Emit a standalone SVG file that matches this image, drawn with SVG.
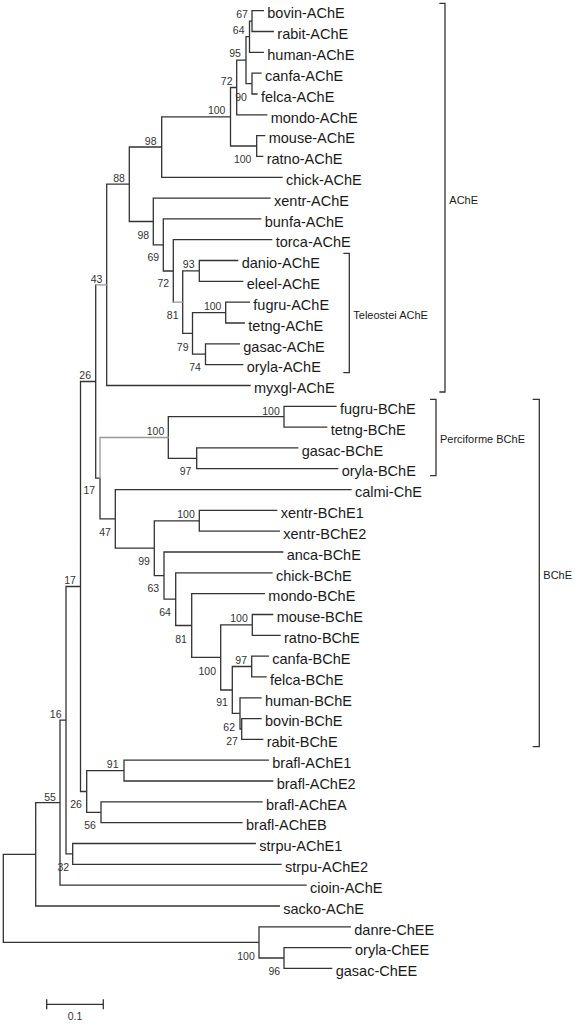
<svg xmlns="http://www.w3.org/2000/svg" width="575" height="1024" viewBox="0 0 575 1024">
<style>
.br{fill:none;stroke:#333;stroke-width:1.3;stroke-linecap:square}
.gr{fill:none;stroke:#999;stroke-width:1.3;stroke-linecap:square}
.lf{font-family:"Liberation Sans",Arial,sans-serif;font-size:14.5px;fill:#1a1a1a}
.bs{font-family:"Liberation Sans",Arial,sans-serif;font-size:10.5px;fill:#333;text-anchor:middle}
.bk{font-family:"Liberation Sans",Arial,sans-serif;font-size:11px;fill:#1a1a1a}
</style>
<rect width="575" height="1024" fill="#fff"/>
<g id="connectors">
<path class="br" d="
M252,10.7V31.5 M252,10.7H263.3 M252,31.5H273.3
M249.5,21.1V52.3 M249.5,21.1H252 M249.5,52.3H263.3
M252,73.2V94 M252,73.2H261 M252,94H257
M246,36.7V83.6 M246,36.7H249.5 M246,83.6H252
M236.7,60.2V114.8 M236.7,60.2H246 M236.7,114.8H266.7
M256.7,135.6V156.4 M256.7,135.6H264.7 M256.7,156.4H262.7
M230.5,87.5V146 M230.5,87.5H236.7 M230.5,146H256.7
M161.7,116.8V177.3 M161.7,116.8H230.5 M161.7,177.3H282
M199.3,260.5V281.4 M199.3,260.5H237.7 M199.3,281.4H242.7
M225.7,302.2V323 M225.7,302.2H249.3 M225.7,323H244.3
M205.5,343.8V364.6 M205.5,343.8H239.3 M205.5,364.6H242.7
M192.5,312.6V354.2 M192.5,312.6H225.7 M192.5,354.2H205.5
M182.7,270.9V333.4 M182.7,270.9H199.3 M182.7,333.4H192.5
M173.3,239.7V302.2 M173.3,239.7H271.7
M163.3,218.9V271 M163.3,218.9H260.7 M163.3,271H173.3
M153.3,198.1V244.9 M153.3,198.1H270 M153.3,244.9H163.3
M129.3,147V221.5 M129.3,147H161.7 M129.3,221.5H153.3
M106.7,184.2V385.5 M106.7,184.2H129.3 M106.7,385.5H250
M284,406.3V427.1 M284,406.3H336 M284,427.1H326.7
M196.7,447.9V468.7 M196.7,447.9H297.7 M196.7,468.7H337.7
M168.3,416.7V458.3 M168.3,416.7H284 M168.3,458.3H196.7
M199.3,510.4V531.2 M199.3,510.4H276.7 M199.3,531.2H279.3
M252.3,614.5V635.3 M252.3,614.5H272.7 M252.3,635.3H280
M251.7,656.1V676.9 M251.7,656.1H268.3 M251.7,676.9H266
M241.7,718.6V739.4 M241.7,718.6H261 M241.7,739.4H262.7
M240,697.8V729 M240,697.8H261 M240,729H241.7
M232.3,666.5V713.4 M232.3,666.5H251.7 M232.3,713.4H240
M220.7,624.9V690 M220.7,624.9H252.3 M220.7,690H232.3
M191.7,593.7V657.4 M191.7,593.7H264.3 M191.7,657.4H220.7
M175.7,572.8V625.5 M175.7,572.8H272 M175.7,625.5H191.7
M164,552V599.2 M164,552H282.7 M164,599.2H175.7
M154.3,520.8V575.6 M154.3,520.8H199.3 M154.3,575.6H164
M115.3,489.6V548.2 M115.3,489.6H351 M115.3,548.2H154.3
M100,478.2V518.9 M100,518.9H115.3
M95.7,284.8V478.2 M95.7,478.2H100
M124,760.2V781 M124,760.2H268.3 M124,781H272.7
M101,801.9V822.7 M101,801.9H262 M101,822.7H242
M86.7,770.6V812.3 M86.7,770.6H124 M86.7,812.3H101
M80.5,381.5V791.5 M80.5,381.5H95.7 M80.5,791.5H86.7
M72.7,843.5V864.3 M72.7,843.5H255.3 M72.7,864.3H281
M66,586.5V853.9 M66,586.5H80.5 M66,853.9H72.7
M60,720.2V885.1 M60,720.2H66 M60,885.1H306
M35.7,802.7V906 M35.7,802.7H60 M35.7,906H279.3
M284,947.6V968.4 M284,947.6H351 M284,968.4H331.7
M259,926.8V958 M259,926.8H350.3 M259,958H284
M3.3,854.3V942.4 M3.3,854.3H35.7 M3.3,942.4H259
"/>
<path class="gr" d="M173.3,302.2H182.7 M95.7,284.8H106.7 M100,437.5V478.2 M100,437.5H168.3"/>
</g>
<g id="leaves">
<g id="bovin-AChE"><text class="lf" x="267.3" y="18.4">bovin-AChE</text></g>
<g id="rabit-AChE"><text class="lf" x="277.3" y="39.2">rabit-AChE</text></g>
<g id="human-AChE"><text class="lf" x="267.3" y="60">human-AChE</text></g>
<g id="canfa-AChE"><text class="lf" x="265" y="80.9">canfa-AChE</text></g>
<g id="felca-AChE"><text class="lf" x="261" y="101.7">felca-AChE</text></g>
<g id="mondo-AChE"><text class="lf" x="270.7" y="122.5">mondo-AChE</text></g>
<g id="mouse-AChE"><text class="lf" x="268.7" y="143.3">mouse-AChE</text></g>
<g id="ratno-AChE"><text class="lf" x="266.7" y="164.1">ratno-AChE</text></g>
<g id="chick-AChE"><text class="lf" x="286" y="185">chick-AChE</text></g>
<g id="xentr-AChE"><text class="lf" x="274" y="205.8">xentr-AChE</text></g>
<g id="bunfa-AChE"><text class="lf" x="264.7" y="226.6">bunfa-AChE</text></g>
<g id="torca-AChE"><text class="lf" x="275.7" y="247.4">torca-AChE</text></g>
<g id="danio-AChE"><text class="lf" x="241.7" y="268.2">danio-AChE</text></g>
<g id="eleel-AChE"><text class="lf" x="246.7" y="289.1">eleel-AChE</text></g>
<g id="fugru-AChE"><text class="lf" x="253.3" y="309.9">fugru-AChE</text></g>
<g id="tetng-AChE"><text class="lf" x="248.3" y="330.7">tetng-AChE</text></g>
<g id="gasac-AChE"><text class="lf" x="243.3" y="351.5">gasac-AChE</text></g>
<g id="oryla-AChE"><text class="lf" x="246.7" y="372.3">oryla-AChE</text></g>
<g id="myxgl-AChE"><text class="lf" x="254" y="393.2">myxgl-AChE</text></g>
<g id="fugru-BChE"><text class="lf" x="340" y="414">fugru-BChE</text></g>
<g id="tetng-BChE"><text class="lf" x="330.7" y="434.8">tetng-BChE</text></g>
<g id="gasac-BChE"><text class="lf" x="301.7" y="455.6">gasac-BChE</text></g>
<g id="oryla-BChE"><text class="lf" x="341.7" y="476.4">oryla-BChE</text></g>
<g id="calmi-ChE"><text class="lf" x="355" y="497.3">calmi-ChE</text></g>
<g id="xentr-BChE1"><text class="lf" x="280.7" y="518.1">xentr-BChE1</text></g>
<g id="xentr-BChE2"><text class="lf" x="283.3" y="538.9">xentr-BChE2</text></g>
<g id="anca-BChE"><text class="lf" x="286.7" y="559.7">anca-BChE</text></g>
<g id="chick-BChE"><text class="lf" x="276" y="580.5">chick-BChE</text></g>
<g id="mondo-BChE"><text class="lf" x="268.3" y="601.4">mondo-BChE</text></g>
<g id="mouse-BChE"><text class="lf" x="276.7" y="622.2">mouse-BChE</text></g>
<g id="ratno-BChE"><text class="lf" x="284" y="643">ratno-BChE</text></g>
<g id="canfa-BChE"><text class="lf" x="272.3" y="663.8">canfa-BChE</text></g>
<g id="felca-BChE"><text class="lf" x="270" y="684.6">felca-BChE</text></g>
<g id="human-BChE"><text class="lf" x="265" y="705.5">human-BChE</text></g>
<g id="bovin-BChE"><text class="lf" x="265" y="726.3">bovin-BChE</text></g>
<g id="rabit-BChE"><text class="lf" x="266.7" y="747.1">rabit-BChE</text></g>
<g id="brafl-AChE1"><text class="lf" x="272.3" y="767.9">brafl-AChE1</text></g>
<g id="brafl-AChE2"><text class="lf" x="276.7" y="788.7">brafl-AChE2</text></g>
<g id="brafl-AChEA"><text class="lf" x="266" y="809.6">brafl-AChEA</text></g>
<g id="brafl-AChEB"><text class="lf" x="246" y="830.4">brafl-AChEB</text></g>
<g id="strpu-AChE1"><text class="lf" x="259.3" y="851.2">strpu-AChE1</text></g>
<g id="strpu-AChE2"><text class="lf" x="285" y="872">strpu-AChE2</text></g>
<g id="cioin-AChE"><text class="lf" x="310" y="892.8">cioin-AChE</text></g>
<g id="sacko-AChE"><text class="lf" x="283.3" y="913.7">sacko-AChE</text></g>
<g id="danre-ChEE"><text class="lf" x="354.3" y="934.5">danre-ChEE</text></g>
<g id="oryla-ChEE"><text class="lf" x="355" y="955.3">oryla-ChEE</text></g>
<g id="gasac-ChEE"><text class="lf" x="335.7" y="976.1">gasac-ChEE</text></g>
</g>
<g id="bootstrap">
<text class="bs" x="242" y="18.1">67</text>
<text class="bs" x="238.7" y="33.8">64</text>
<text class="bs" x="235" y="57.1">95</text>
<text class="bs" x="226.7" y="84.5">72</text>
<text class="bs" x="241" y="100.5">90</text>
<text class="bs" x="216.7" y="113.8">100</text>
<text class="bs" x="150.7" y="144.5">98</text>
<text class="bs" x="242.7" y="162.8">100</text>
<text class="bs" x="119" y="182.1">88</text>
<text class="bs" x="143.3" y="238.8">98</text>
<text class="bs" x="153.3" y="260.5">69</text>
<text class="bs" x="188.7" y="267.8">93</text>
<text class="bs" x="163.3" y="287.1">72</text>
<text class="bs" x="212.7" y="309.8">100</text>
<text class="bs" x="172.7" y="318.8">81</text>
<text class="bs" x="182.7" y="350.5">79</text>
<text class="bs" x="195" y="370.5">74</text>
<text class="bs" x="96.5" y="282.6">43</text>
<text class="bs" x="85.2" y="378.8">26</text>
<text class="bs" x="271" y="414.5">100</text>
<text class="bs" x="155.5" y="435.1">100</text>
<text class="bs" x="185.5" y="474.5">97</text>
<text class="bs" x="89.3" y="494.1">17</text>
<text class="bs" x="186" y="518.1">100</text>
<text class="bs" x="105" y="535.5">47</text>
<text class="bs" x="144" y="564.8">99</text>
<text class="bs" x="153.3" y="592.1">63</text>
<text class="bs" x="165" y="616.1">64</text>
<text class="bs" x="70" y="583.8">17</text>
<text class="bs" x="239" y="622.1">100</text>
<text class="bs" x="181" y="642.8">81</text>
<text class="bs" x="241.2" y="664.1">97</text>
<text class="bs" x="207.3" y="674.5">100</text>
<text class="bs" x="222" y="706">91</text>
<text class="bs" x="229.2" y="730.8">62</text>
<text class="bs" x="232" y="744.8">27</text>
<text class="bs" x="55.7" y="717.8">16</text>
<text class="bs" x="112.7" y="768.1">91</text>
<text class="bs" x="76" y="808.1">26</text>
<text class="bs" x="90" y="828.8">56</text>
<text class="bs" x="50" y="800.5">55</text>
<text class="bs" x="63.3" y="870.5">32</text>
<text class="bs" x="246" y="959.5">100</text>
<text class="bs" x="274.3" y="974.5">96</text>
</g>
<g id="brackets">
<path class="br" d="M440,3.3H445V392H440 M344,253.3H349.3V372.7H344 M430.7,399.3H436V475.7H430.7 M533.3,399.3H539.3V746.7H533.3"/>
<g id="AChE"><text class="bk" x="449.3" y="204">AChE</text></g>
<g id="Teleostei-AChE"><text class="bk" x="353.3" y="319">Teleostei AChE</text></g>
<g id="Perciforme-BChE"><text class="bk" x="440" y="443">Perciforme BChE</text></g>
<g id="BChE"><text class="bk" x="543.3" y="579">BChE</text></g>
</g>
<g id="scale">
<path class="br" d="M46.7,1004.3H103.3 M46.7,1000V1008.5 M103.3,1000V1008.5"/>
<text class="bs" x="75" y="1020">0.1</text>
</g>
</svg>
